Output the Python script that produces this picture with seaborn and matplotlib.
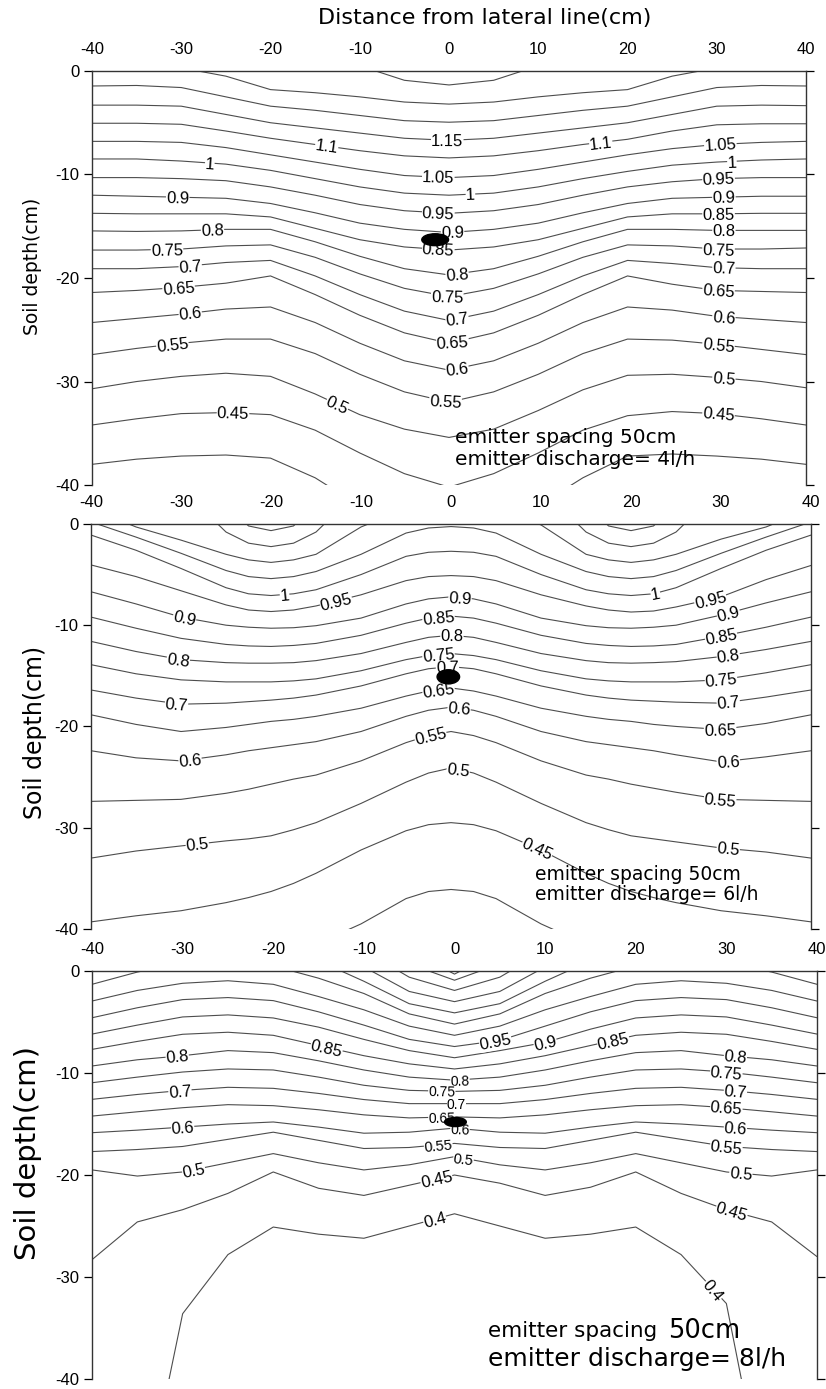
"""
Soil water content contours under a drip emitter, three discharge rates.
"""

import numpy as np
import pandas as pd
import matplotlib
matplotlib.use("Agg")
import matplotlib.pyplot as plt
from matplotlib.patches import Ellipse
import seaborn as sns

# distance from lateral line (cm) at which each contour depth was read
x_grid = [-40, -35, -30, -25, -20, -15, -10, -5, 0, 5, 10, 15, 20, 25, 30, 35, 40]
# panel 2 troughs are rounder, so it was read more densely around them
x_grid2 = [-40, -35, -30, -25, -22.5, -20, -17.5, -15, -10, -5, -2.5, 0,
           2.5, 5, 10, 15, 17.5, 20, 22.5, 25, 30, 35, 40]

# ---- panel 1: emitter discharge 4 l/h ----
p1_levels = [1.3, 1.25, 1.2, 1.15, 1.1, 1.05, 1.0, 0.95, 0.9, 0.85, 0.8,
             0.75, 0.7, 0.65, 0.6, 0.55, 0.5, 0.45, 0.4]
p1_depths = [
    [3, 3, 3, 3, 3, 2.5, 0.5, -0.9, -1.35, -0.9, 0.5, 2.5, 3, 3, 3, 3, 3],
    [0.4, 0.4, 0.3, -0.5, -1.8, -2.1, -2.5, -3.0, -3.2, -3.0, -2.5, -2.1, -1.8, -0.5, 0.3, 0.4, 0.4],
    [-1.45, -1.4, -1.6, -2.5, -3.4, -3.8, -4.3, -4.8, -4.95, -4.8, -4.3, -3.8, -3.4, -2.5, -1.6, -1.4, -1.45],
    [-3.3, -3.3, -3.4, -4.2, -5.0, -5.5, -6.0, -6.5, -6.7, -6.5, -6.0, -5.5, -5.0, -4.2, -3.4, -3.3, -3.35],
    [-5.05, -5.05, -5.15, -5.8, -6.5, -7.1, -7.7, -8.2, -8.4, -8.2, -7.7, -7.1, -6.6, -5.8, -5.2, -5.1, -5.1],
    [-6.8, -6.8, -6.9, -7.4, -8.1, -8.8, -9.5, -10.1, -10.3, -10.1, -9.5, -8.8, -8.1, -7.5, -7.1, -6.9, -6.8],
    [-8.5, -8.5, -8.7, -9.0, -9.6, -10.4, -11.2, -11.8, -12.0, -11.8, -11.2, -10.4, -9.7, -9.1, -8.8, -8.6, -8.5],
    [-10.3, -10.3, -10.4, -10.6, -11.2, -12.0, -12.9, -13.5, -13.75, -13.5, -12.9, -12.0, -11.2, -10.7, -10.4, -10.3, -10.3],
    [-12.0, -12.1, -12.2, -12.3, -12.8, -13.7, -14.7, -15.3, -15.6, -15.3, -14.7, -13.7, -12.8, -12.3, -12.2, -12.1, -12.1],
    [-13.75, -13.8, -13.8, -13.8, -14.1, -15.2, -16.3, -17.0, -17.3, -17.0, -16.3, -15.2, -14.1, -13.8, -13.8, -13.75, -13.75],
    [-15.45, -15.5, -15.45, -15.3, -15.3, -16.5, -17.9, -19.1, -19.7, -19.1, -17.9, -16.5, -15.3, -15.3, -15.4, -15.4, -15.4],
    [-17.3, -17.3, -17.2, -16.9, -16.8, -18.0, -19.6, -21.0, -21.8, -21.0, -19.6, -18.0, -16.8, -16.9, -17.2, -17.2, -17.1],
    [-19.1, -19.1, -18.9, -18.5, -18.3, -19.8, -21.6, -23.2, -24.1, -23.2, -21.6, -19.8, -18.3, -18.6, -19.0, -19.1, -19.1],
    [-21.4, -21.2, -20.9, -20.5, -19.8, -21.6, -23.6, -25.3, -26.3, -25.3, -23.6, -21.6, -19.8, -20.6, -21.2, -21.3, -21.4],
    [-24.3, -23.9, -23.5, -23.0, -22.8, -24.3, -26.3, -28.0, -28.9, -28.0, -26.3, -24.3, -22.8, -23.1, -23.7, -24.0, -24.3],
    [-27.4, -26.8, -26.3, -25.9, -25.9, -27.3, -29.3, -31.0, -32.0, -31.0, -29.3, -27.3, -25.9, -26.0, -26.4, -26.9, -27.4],
    [-30.7, -30.0, -29.5, -29.2, -29.5, -31.2, -33.2, -34.6, -35.4, -34.6, -32.8, -30.8, -29.4, -29.3, -29.6, -30.0, -30.6],
    [-34.2, -33.6, -33.1, -33.0, -33.2, -34.7, -36.9, -38.9, -40.2, -38.9, -36.9, -34.7, -33.3, -32.9, -33.1, -33.6, -34.2],
    [-38.0, -37.5, -37.2, -37.1, -37.4, -39.3, -42.0, -44.0, -45.0, -44.0, -42.0, -39.3, -37.2, -37.0, -37.2, -37.5, -38.0],
]

# ---- panel 2: emitter discharge 6 l/h (read on x_grid2) ----
p2_levels = [1.2, 1.15, 1.1, 1.05, 1.0, 0.95, 0.9, 0.85, 0.8, 0.75, 0.7,
             0.65, 0.6, 0.55, 0.5, 0.45, 0.4]
p2_depths = [
    [4, 4, 4, 2.0, -0.2, -0.66, -0.2, 2.0, 4, 4, 4, 4,
     4, 4, 4, 2.0, -0.2, -0.66, -0.2, 2.0, 4, 4, 4],
    [4, 4, 3.5, -0.8, -1.9, -2.24, -1.9, -0.8, 3.5, 4, 4, 4,
     4, 4, 3.5, -0.8, -1.9, -2.24, -1.9, -0.8, 3.5, 4, 4],
    [1.5, -0.3, -1.6, -3.0, -3.55, -3.8, -3.55, -3.0, -0.3, 1.5, 2.2, 2.5,
     2.2, 1.5, -0.1, -3.0, -3.55, -3.8, -3.55, -3.0, -1.5, -0.3, 1.5],
    [0.2, -1.3, -2.9, -4.6, -5.2, -5.4, -5.2, -4.7, -3.0, -0.9, -0.4, -0.26,
     -0.4, -0.9, -3.0, -4.7, -5.2, -5.4, -5.2, -4.6, -2.9, -1.3, 0.2],
    [-1.1, -2.6, -4.4, -6.3, -6.9, -7.07, -6.9, -6.5, -5.0, -3.2, -2.8, -2.7,
     -2.8, -3.2, -5.0, -6.5, -6.9, -7.07, -6.9, -6.3, -4.4, -2.6, -1.1],
    [-4.05, -5.2, -6.6, -8.0, -8.5, -8.65, -8.5, -8.1, -7.0, -5.6, -5.2, -5.1,
     -5.2, -5.6, -7.0, -8.1, -8.5, -8.7, -8.6, -8.2, -7.2, -5.5, -4.1],
    [-6.7, -7.9, -9.2, -10.0, -10.2, -10.3, -10.25, -10.05, -9.3, -7.9, -7.4, -7.2,
     -7.4, -7.9, -9.3, -10.05, -10.25, -10.3, -10.2, -10.0, -9.0, -7.8, -6.7],
    [-9.2, -10.3, -11.3, -11.9, -12.05, -12.1, -12.0, -11.8, -11.0, -9.8, -9.3, -9.1,
     -9.3, -9.8, -11.0, -11.8, -12.0, -12.1, -12.05, -11.9, -11.1, -10.2, -9.2],
    [-11.6, -12.6, -13.4, -13.7, -13.75, -13.75, -13.7, -13.5, -12.8, -11.7, -11.2, -11.0,
     -11.2, -11.7, -12.8, -13.5, -13.7, -13.75, -13.7, -13.6, -13.1, -12.4, -11.6],
    [-13.9, -14.8, -15.4, -15.6, -15.6, -15.6, -15.5, -15.3, -14.5, -13.4, -13.0, -12.8,
     -13.0, -13.4, -14.5, -15.3, -15.5, -15.6, -15.6, -15.6, -15.4, -14.7, -13.9],
    [-16.4, -17.2, -17.8, -17.7, -17.55, -17.4, -17.2, -16.9, -16.0, -14.8, -14.3, -14.1,
     -14.3, -14.8, -16.0, -16.9, -17.2, -17.4, -17.5, -17.6, -17.7, -17.1, -16.4],
    [-18.85, -19.8, -20.5, -20.1, -19.8, -19.5, -19.3, -19.0, -18.2, -17.0, -16.5, -16.2,
     -16.5, -17.0, -18.2, -19.0, -19.3, -19.5, -19.8, -20.0, -20.3, -19.7, -18.85],
    [-22.4, -23.1, -23.4, -22.8, -22.4, -22.1, -21.8, -21.5, -20.5, -19.0, -18.4, -18.1,
     -18.4, -19.0, -20.5, -21.5, -21.8, -22.1, -22.4, -22.8, -23.5, -23.0, -22.4],
    [-27.4, -27.3, -27.2, -26.6, -26.2, -25.7, -25.2, -24.8, -23.4, -21.6, -20.9, -20.5,
     -20.9, -21.6, -23.4, -24.8, -25.2, -25.7, -26.1, -26.5, -27.2, -27.3, -27.4],
    [-33.0, -32.3, -31.8, -31.3, -31.1, -30.8, -30.2, -29.5, -27.6, -25.5, -24.6, -24.1,
     -24.6, -25.5, -27.6, -29.5, -30.2, -30.8, -31.1, -31.4, -32.0, -32.4, -33.0],
    [-39.3, -38.7, -38.2, -37.4, -36.9, -36.3, -35.5, -34.5, -32.2, -30.3, -29.7, -29.5,
     -29.7, -30.3, -32.2, -34.5, -35.5, -36.3, -36.9, -37.4, -38.2, -38.7, -39.3],
    [-50, -50, -50, -47, -45.5, -44, -42.7, -41.5, -39.5, -37.0, -36.3, -36.1,
     -36.3, -37.0, -39.5, -41.5, -42.7, -44, -45.5, -47, -50, -50, -50],
]

# ---- panel 3: emitter discharge 8 l/h ----
p3_levels = [1.3, 1.25, 1.2, 1.15, 1.1, 1.05, 1.0, 0.95, 0.9, 0.85, 0.8,
             0.75, 0.7, 0.65, 0.6, 0.55, 0.5, 0.45, 0.4]
p3_depths = [
    [4, 4, 4, 4, 4, 4, 4, 2.0, -0.3, 2.0, 4, 4, 4, 4, 4, 4, 4],
    [4, 4, 4, 4, 4, 4, 3.0, 0.7, -0.9, 0.7, 3.0, 4, 4, 4, 4, 4, 4],
    [4, 4, 4, 4, 4, 3.5, 2.0, -0.6, -1.9, -0.6, 2.0, 3.5, 4, 4, 4, 4, 4],
    [4, 4, 4, 4, 3.5, 2.5, 0.4, -2.0, -3.0, -2.0, 0.4, 2.5, 3.5, 4, 4, 4, 4],
    [3, 3, 3, 3, 2.0, 1.0, -1.0, -3.2, -4.1, -3.2, -1.0, 1.0, 2.0, 3, 3, 3, 3],
    [-1.3, -0.1, 0.8, 0.9, 0.5, -0.7, -2.2, -4.2, -5.2, -4.2, -2.2, -0.7, 0.5, 0.9, 0.8, -0.1, -1.3],
    [-2.94, -1.9, -1.2, -0.95, -1.3, -2.5, -3.8, -5.4, -6.3, -5.4, -3.8, -2.5, -1.3, -0.95, -1.2, -1.9, -2.94],
    [-4.58, -3.6, -2.8, -2.6, -2.9, -4.0, -5.3, -6.7, -7.4, -6.8, -5.4, -4.0, -2.9, -2.6, -2.8, -3.6, -4.58],
    [-6.18, -5.3, -4.5, -4.3, -4.6, -5.5, -6.7, -7.8, -8.5, -7.8, -7.0, -5.7, -4.6, -4.3, -4.5, -5.3, -6.18],
    [-7.68, -6.9, -6.2, -6.0, -6.3, -7.3, -8.3, -9.1, -9.6, -9.1, -8.3, -7.3, -6.3, -6.0, -6.2, -6.9, -7.68],
    [-9.31, -8.7, -8.3, -7.8, -8.0, -8.8, -9.7, -10.4, -10.7, -10.4, -9.7, -8.8, -8.0, -7.8, -8.3, -8.7, -9.31],
    [-10.95, -10.4, -9.9, -9.6, -9.7, -10.4, -11.2, -11.7, -11.8, -11.7, -11.2, -10.4, -9.7, -9.6, -9.9, -10.4, -10.95],
    [-12.58, -12.1, -11.7, -11.4, -11.5, -12.0, -12.6, -13.0, -13.0, -13.0, -12.6, -12.0, -11.5, -11.4, -11.7, -12.1, -12.58],
    [-14.22, -13.8, -13.4, -13.1, -13.2, -13.6, -14.1, -14.4, -14.3, -14.4, -14.1, -13.6, -13.2, -13.1, -13.4, -13.8, -14.22],
    [-15.85, -15.6, -15.3, -15.0, -14.8, -15.3, -15.9, -15.8, -15.4, -15.8, -15.9, -15.3, -14.8, -15.0, -15.3, -15.6, -15.85],
    [-17.7, -17.5, -17.2, -16.5, -15.8, -16.6, -17.4, -17.3, -16.9, -17.3, -17.4, -16.6, -15.8, -16.5, -17.2, -17.5, -17.7],
    [-19.5, -20.1, -19.7, -18.8, -17.9, -18.8, -19.5, -19.0, -18.2, -19.0, -19.5, -18.8, -17.9, -18.8, -19.7, -20.1, -19.5],
    [-28.3, -24.6, -23.4, -21.8, -19.7, -21.3, -22.0, -21.0, -20.0, -20.8, -22.0, -21.2, -19.7, -21.8, -23.4, -24.6, -28.0],
    [-60, -55, -33.6, -27.8, -25.1, -25.8, -26.2, -25.0, -23.8, -25.0, -26.2, -25.8, -25.1, -27.8, -32.6, -55, -60],
]

# emitter position (x, depth) and discharge for each panel
emitter_x = [-1.55, -0.3, 0.1]
emitter_depth = [-16.3, -15.1, -14.8]
discharge = ['4l/h', '6l/h', '8l/h']

# where along each contour its label sits (level, x[, font size])
p1_spots = [(1.1, -13.7), (1.0, -26.8), (0.9, -30.4), (0.8, -26.5), (0.75, -31.6),
            (0.7, -29), (0.65, -30.3), (0.6, -29), (0.55, -31), (0.5, -12.5), (0.45, -24.2),
            (1.15, -0.2), (1.05, -1.2), (1.0, 2.4), (0.95, -1.2), (0.9, 0.4), (0.85, -1.2),
            (0.8, 0.9), (0.75, -0.2), (0.7, 0.9), (0.65, 0.4), (0.6, 0.9), (0.55, -0.4),
            (1.1, 17), (1.05, 30.4), (1.0, 31.7), (0.95, 30.2), (0.9, 30.8), (0.85, 30.2),
            (0.8, 30.8), (0.75, 30.2), (0.7, 30.8), (0.65, 30.2), (0.6, 30.8), (0.55, 30.2),
            (0.5, 30.8), (0.45, 30.2)]
p2_spots = [(0.9, -29.6), (1.0, -18.5), (0.95, -12.8), (0.8, -30.3), (0.7, -30.5),
            (0.6, -29), (0.5, -28.2),
            (0.9, 1.0), (0.85, -1.4), (0.8, 0.1), (0.75, -1.4), (0.7, -0.4), (0.65, -1.4),
            (0.6, 0.9), (0.55, -2.3), (0.5, 0.8), (0.45, 9.6),
            (1.0, 22.7), (0.95, 28.8), (0.9, 30.8), (0.85, 30), (0.8, 30.8), (0.75, 30),
            (0.7, 30.8), (0.65, 29.9), (0.6, 30.8), (0.55, 29.9), (0.5, 30.8)]
p3_spots = [(0.8, -30.6), (0.7, -30.3), (0.6, -30), (0.5, -28.8), (0.85, -14.1),
            (0.95, 4.5), (0.9, 10), (0.85, 17.5),
            (0.8, 0.6, 10), (0.75, -1.4, 10), (0.7, 0.2, 10), (0.65, -1.4, 10),
            (0.6, 0.6, 10), (0.55, -1.8, 10.5), (0.5, 1.0, 10.5),
            (0.45, -2.0), (0.4, -2.2),
            (0.8, 31), (0.75, 30), (0.7, 31), (0.65, 30), (0.6, 31), (0.55, 30),
            (0.5, 31.6), (0.45, 30.6), (0.4, 28.6)]


def lines_frame(xs, levels, depths):
    rows = []
    for lev, d in zip(levels, depths):
        for x, y in zip(xs, d):
            rows.append((lev, x, y))
    return pd.DataFrame(rows, columns=['level', 'x', 'depth'])


def put_labels(ax, xs, levels, depths, spots):
    for lev, xl, *rest in spots:
        size = rest[0] if rest else 12
        d = depths[levels.index(lev)]
        yl = np.interp(xl, xs, d)
        a = ax.transData.transform((xl - 1.5, np.interp(xl - 1.5, xs, d)))
        b = ax.transData.transform((xl + 1.5, np.interp(xl + 1.5, xs, d)))
        ang = np.degrees(np.arctan2(b[1] - a[1], b[0] - a[0]))
        ax.text(xl, yl, f'{lev:g}', rotation=ang, rotation_mode='anchor',
                ha='center', va='center_baseline', fontsize=size, zorder=3,
                bbox=dict(fc='white', ec='none', pad=0.1))


def style_axes(ax, ylab_size, ylab_pos):
    ax.set_xlim(-40, 40)
    ax.set_ylim(-40, 0)
    ax.set_xticks(range(-40, 41, 10))
    ax.set_yticks(range(-40, 1, 10))
    ax.xaxis.tick_top()
    ax.tick_params(axis='x', top=True, bottom=False, labeltop=True, labelbottom=False,
                   direction='out', length=7, width=0.9, labelsize=12, pad=3)
    ax.tick_params(axis='y', left=True, right=True, labelleft=True, labelright=False,
                   direction='out', length=6, width=0.9, labelsize=12, pad=3)
    sns.despine(ax=ax, top=False, right=False, left=False, bottom=True)
    for s in ['top', 'left', 'right']:
        ax.spines[s].set_color('#333333')
        ax.spines[s].set_linewidth(1.0)
    ax.set_xlabel('')
    ax.set_ylabel('Soil depth(cm)', fontsize=ylab_size, family='DejaVu Sans')
    ax.yaxis.set_label_coords(*ylab_pos)
    ax.yaxis.label.set_va('center')


sns.set_style('ticks')
plt.rcParams['font.family'] = ['Liberation Sans', 'DejaVu Sans']
plt.rcParams['axes.unicode_minus'] = False
plt.rcParams['text.color'] = 'black'
plt.rcParams['axes.labelcolor'] = 'black'
plt.rcParams['xtick.color'] = 'black'
plt.rcParams['ytick.color'] = 'black'

fig = plt.figure(figsize=(8.26, 13.89), dpi=100)
rects = [[0.1114, 0.6508, 0.8644, 0.2981],
         [0.1102, 0.3312, 0.8717, 0.2916],
         [0.1114, 0.0072, 0.8777, 0.2937]]
panels = [(x_grid, p1_levels, p1_depths, p1_spots),
          (x_grid2, p2_levels, p2_depths, p2_spots),
          (x_grid, p3_levels, p3_depths, p3_spots)]
ylab_sizes = [13.5, 17, 21]
ylab_pos = [(-0.083, 0.529), (-0.078, 0.486), (-0.088, 0.554)]
ell_size = [(3.0, 1.15), (2.5, 1.4), (2.4, 0.9)]

for i, (xs, levels, depths, spots) in enumerate(panels):
    ax = fig.add_axes(rects[i])
    df = lines_frame(xs, levels, depths)
    sns.lineplot(data=df, x='x', y='depth', units='level', estimator=None,
                 color='#4d4d4d', linewidth=0.8, legend=False, ax=ax)
    style_axes(ax, ylab_sizes[i], ylab_pos[i])
    put_labels(ax, xs, levels, depths, spots)
    w, h = ell_size[i]
    ax.add_patch(Ellipse((emitter_x[i], emitter_depth[i]), w, h, color='black', zorder=5))

    if i == 0:
        ax.text(0.7, -35.4, 'emitter spacing 50cm', fontsize=14.5, family='DejaVu Sans',
                ha='left', va='center')
        ax.text(0.7, -37.5, 'emitter discharge= ' + discharge[i], fontsize=14.5,
                family='DejaVu Sans', ha='left', va='center')
    elif i == 1:
        ax.text(9.3, -34.6, 'emitter spacing 50cm', fontsize=13.5, family='DejaVu Sans',
                ha='left', va='center')
        ax.text(9.3, -36.6, 'emitter discharge= ' + discharge[i], fontsize=13.5,
                family='DejaVu Sans', ha='left', va='center')
    else:
        ax.text(3.7, -35.3, 'emitter spacing', fontsize=15.5, family='DejaVu Sans',
                ha='left', va='center')
        ax.text(23.6, -35.3, '50cm', fontsize=18.5, family='DejaVu Sans',
                ha='left', va='center')
        ax.text(3.7, -38.0, 'emitter discharge= ' + discharge[i], fontsize=18,
                family='DejaVu Sans', ha='left', va='center')

fig.text(0.587, 0.987, 'Distance from lateral line(cm)', fontsize=16,
         family='DejaVu Sans', ha='center', va='center')

fig.savefig('out.png', dpi=100)
